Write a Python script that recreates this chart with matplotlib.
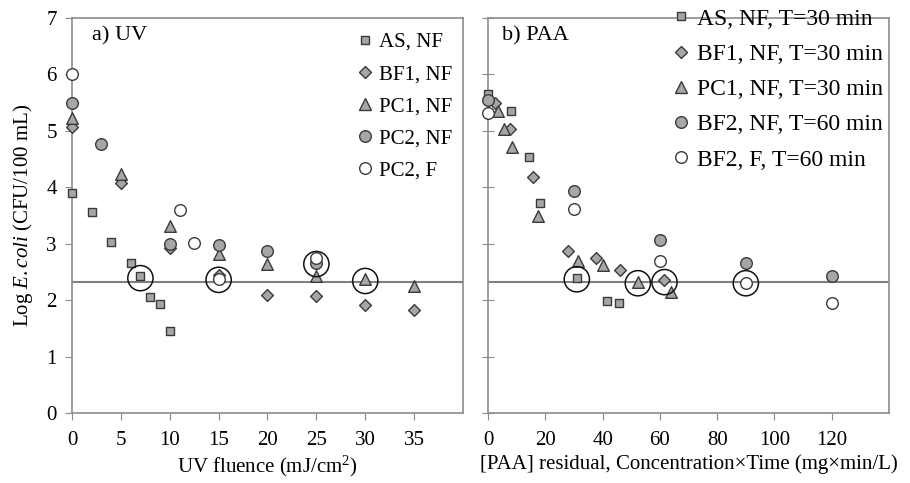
import matplotlib
matplotlib.use("Agg")
import matplotlib.pyplot as plt
from matplotlib.lines import Line2D

plt.rcParams['font.family'] = ['Liberation Serif', 'DejaVu Serif']
plt.rcParams['mathtext.fontset'] = 'custom'
plt.rcParams['mathtext.rm'] = 'Liberation Serif'
plt.rcParams['mathtext.it'] = 'Liberation Serif:italic'

LOD = 2.32

# ---- Panel a) UV ----
uv_as_x = [0, 2, 4, 6, 7, 8, 9, 10]
uv_as_y = [3.90, 3.57, 3.03, 2.65, 2.42, 2.06, 1.93, 1.46]
uv_bf1_x = [0, 5, 10, 15, 20, 25, 30, 35]
uv_bf1_y = [5.07, 4.07, 2.93, 2.45, 2.10, 2.08, 1.91, 1.82]
uv_pc1_x = [0, 5, 10, 15, 20, 25, 30, 35]
uv_pc1_y = [5.23, 4.23, 3.31, 2.82, 2.64, 2.43, 2.38, 2.25]
uv_pc2_x = [0, 3, 10, 15, 20, 25]
uv_pc2_y = [5.50, 4.77, 3.00, 2.97, 2.88, 2.66]
uv_pc2f_x = [0, 11, 12.5, 15, 25]
uv_pc2f_y = [6.00, 3.59, 3.02, 2.37, 2.75]
uv_big_x = [7, 15, 25, 30]
uv_big_y = [2.39, 2.36, 2.64, 2.34]

# ---- Panel b) PAA ----
paa_as_x = [0, 8, 14.3, 18, 31, 41.4, 45.6]
paa_as_y = [5.66, 5.36, 4.53, 3.72, 2.39, 1.98, 1.95]
paa_bf1_x = [2.4, 7.6, 15.7, 27.9, 37.6, 46, 61.6]
paa_bf1_y = [5.49, 5.04, 4.18, 2.88, 2.74, 2.53, 2.35]
paa_pc1_x = [3.5, 5.6, 8.3, 17.3, 31.4, 40, 52.3, 64]
paa_pc1_y = [5.35, 5.03, 4.71, 3.50, 2.69, 2.62, 2.32, 2.14]
paa_bf2_x = [0, 30, 60, 90, 120]
paa_bf2_y = [5.54, 3.93, 3.06, 2.65, 2.42]
paa_bf2f_x = [0, 30, 60, 90, 120]
paa_bf2f_y = [5.31, 3.61, 2.69, 2.30, 1.95]
paa_big_x = [31, 52.3, 61.6, 90]
paa_big_y = [2.37, 2.30, 2.32, 2.30]

uv_labels = ["AS, NF", "BF1, NF", "PC1, NF", "PC2, NF", "PC2, F"]
paa_labels = ["AS, NF, T=30 min", "BF1, NF, T=30 min", "PC1, NF, T=30 min",
              "BF2, NF, T=60 min", "BF2, F, T=60 min"]

GREY = '#a6a6a6'
EDGE = '#3a3a3a'
SPINE = '#8c8c8c'
FS = 15

styles = [
    dict(marker='s', s=40, facecolor=GREY),
    dict(marker='D', s=36, facecolor=GREY),
    dict(marker='^', s=70, facecolor=GREY),
    dict(marker='o', s=70, facecolor=GREY),
    dict(marker='o', s=70, facecolor='white'),
]

fig = plt.figure(figsize=(9.10, 4.83), dpi=100)
axA = fig.add_axes([0.0791, 0.1449, 0.4297, 0.8178])
axB = fig.add_axes([0.5363, 0.1449, 0.4407, 0.8178])

def draw(ax, series, big, labels, xmax, xticks, tickdir, legfs, anchor, spacing):
    ax.axhline(LOD, color='#808080', lw=1.5, zorder=1)
    handles = []
    for (x, y), st, lab in zip(series, styles, labels):
        ax.scatter(x, y, marker=st['marker'], s=st['s'], facecolor=st['facecolor'],
                   edgecolor=EDGE, linewidths=1.0, zorder=3, clip_on=False)
        handles.append(Line2D([], [], ls='none', marker=st['marker'],
                              markersize=(st['s'] ** 0.5), markerfacecolor=st['facecolor'],
                              markeredgecolor=EDGE, markeredgewidth=1.0, label=lab))
    ax.scatter(big[0], big[1], marker='o', s=330, facecolor='none',
               edgecolor='#111111', linewidths=1.1, zorder=4, clip_on=False)
    ax.set_xlim(0, xmax)
    ax.set_ylim(0, 7)
    ax.set_xticks(xticks)
    ax.set_yticks(range(0, 8))
    for sp in ax.spines.values():
        sp.set_color(SPINE)
        sp.set_linewidth(1.2)
    ax.tick_params(axis='x', direction='out', length=5, color=SPINE, labelsize=FS, pad=8)
    ax.tick_params(axis='y', direction=tickdir, length=5 if tickdir == 'out' else 8,
                   color=SPINE, labelsize=FS, pad=6)
    leg = ax.legend(handles=handles, loc='upper right', frameon=False, fontsize=legfs,
                    handletextpad=0.1, labelspacing=spacing, borderaxespad=0.1,
                    handlelength=1.2, bbox_to_anchor=anchor)
    return leg

draw(axA, [(uv_as_x, uv_as_y), (uv_bf1_x, uv_bf1_y), (uv_pc1_x, uv_pc1_y),
           (uv_pc2_x, uv_pc2_y), (uv_pc2f_x, uv_pc2f_y)],
     (uv_big_x, uv_big_y), uv_labels, 40, range(0, 40, 5), 'out', FS, (1.0, 0.99), 0.6)
draw(axB, [(paa_as_x, paa_as_y), (paa_bf1_x, paa_bf1_y), (paa_pc1_x, paa_pc1_y),
           (paa_bf2_x, paa_bf2_y), (paa_bf2f_x, paa_bf2f_y)],
     (paa_big_x, paa_big_y), paa_labels, 140, range(0, 140, 20), 'inout', FS + 2,
     (1.015, 1.055), 0.58)
axB.set_yticklabels([])

axA.text(2.0, 6.68, "a) UV", fontsize=FS + 1, va='center', ha='left')
axB.text(5.0, 6.68, "b) PAA", fontsize=FS + 1, va='center', ha='left')

axA.set_ylabel(r"Log $\mathit{E. coli}$ (CFU/100 mL)", fontsize=FS, labelpad=8)
axA.set_xlabel(r"UV fluence (mJ/cm$^{2}$)", fontsize=FS, labelpad=3)
axB.set_xlabel("[PAA] residual, Concentration×Time (mg×min/L)", fontsize=FS, labelpad=3)

fig.savefig("out.png", dpi=100)
